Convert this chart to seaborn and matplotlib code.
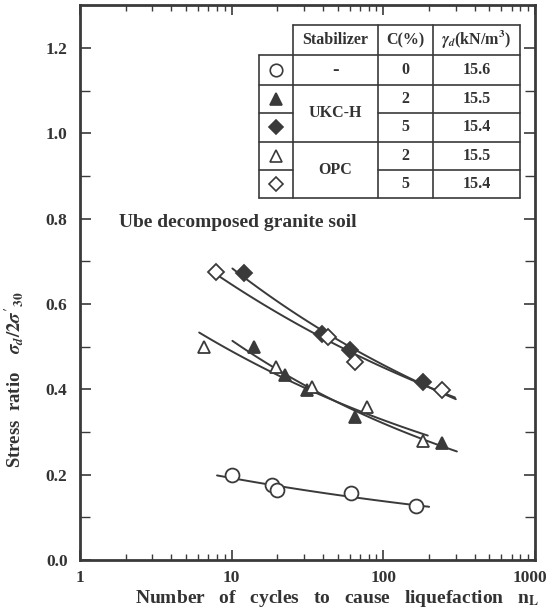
import numpy as np
import pandas as pd
import matplotlib
matplotlib.use("Agg")
import matplotlib.pyplot as plt
import matplotlib.transforms as mtransforms
import seaborn as sns

# number of cycles / stress ratio
n_none = [10.1, 18.3, 20.0, 61.0, 164.0]
s_none = [0.198, 0.175, 0.163, 0.156, 0.126]
n_ukc2 = [14.1, 22.3, 31.2, 64.7, 243.0]
s_ukc2 = [0.499, 0.434, 0.399, 0.334, 0.275]
n_ukc5 = [12.1, 39.2, 60.0, 182.0]
s_ukc5 = [0.672, 0.530, 0.492, 0.418]
n_opc2 = [6.6, 19.7, 33.6, 77.6, 182.0]
s_opc2 = [0.499, 0.453, 0.406, 0.359, 0.278]
n_opc5 = [7.9, 42.9, 64.7, 243.0]
s_opc5 = [0.674, 0.523, 0.464, 0.399]

# extent of each fitted curve
span_none = (8.0, 200.0)
span_ukc2 = (10.1, 305.0)
span_ukc5 = (10.1, 300.0)
span_opc2 = (6.1, 196.0)
span_opc5 = (7.3, 296.0)

stabilizers = ["-", "UKC-H", "UKC-H", "OPC", "OPC"]
cement = ["0", "2", "5", "2", "5"]
density = ["15.6", "15.5", "15.4", "15.5", "15.4"]

sns.set_style("ticks")
plt.rcParams["font.family"] = ["Liberation Serif", "DejaVu Serif"]
plt.rcParams["font.weight"] = "bold"
plt.rcParams["mathtext.fontset"] = "stix"

dark = "#3a3a3a"
txt = "#333333"
fig = plt.figure(figsize=(5.5, 6.13), dpi=100)
ax = fig.add_axes([0.1455, 0.0865, 0.8275, 0.905])

series = [
    (n_none, s_none, span_none, "o", "white", 10),
    (n_ukc2, s_ukc2, span_ukc2, "^", dark, 9),
    (n_ukc5, s_ukc5, span_ukc5, "D", dark, 8),
    (n_opc2, s_opc2, span_opc2, "^", "white", 9),
    (n_opc5, s_opc5, span_opc5, "D", "white", 8),
]

# power-law trend line through each series
for n, s, span, mk, fc, ms in series:
    coef = np.polyfit(np.log10(n), np.log10(s), 1)
    xs = np.logspace(np.log10(span[0]), np.log10(span[1]), 100)
    fit = pd.DataFrame({"n": xs, "s": 10 ** np.polyval(coef, np.log10(xs))})
    sns.lineplot(data=fit, x="n", y="s", ax=ax, color=dark, lw=1.4, zorder=2)
    ax.plot(n, s, ls="none", marker=mk, ms=ms, mfc=fc, mec=dark, mew=1.3, zorder=3)

ax.set_xscale("log")
ax.set_xlim(1, 1000)
ax.set_ylim(0, 1.3)
ax.set_yticks(np.arange(0, 1.21, 0.2))
ax.set_yticks(np.arange(0.1, 1.3, 0.2), minor=True)
ax.set_xticks([1, 10, 100, 1000])
ax.set_xticklabels(["1", "10", "100", "1000"])
ax.set_yticklabels([f"{v:.1f}" for v in np.arange(0, 1.21, 0.2)])
ax.tick_params(which="both", direction="in", top=True, right=True, color=dark,
               labelsize=12.5, labelcolor=txt)
ax.tick_params(axis="y", which="major", length=8, width=1.2, pad=9)
ax.tick_params(axis="y", which="minor", length=7, width=1)
ax.tick_params(axis="x", which="major", length=7, width=1.2, pad=7)
ax.tick_params(axis="x", which="minor", length=4, width=1)
for sp in ax.spines.values():
    sp.set_linewidth(2)
    sp.set_color(dark)

# nudge the last x label so it stays on the canvas
last = ax.get_xticklabels()[-1]
last.set_transform(last.get_transform() +
                   mtransforms.ScaledTranslation(-4 / 72, 0, fig.dpi_scale_trans))

ax.set_xlabel("Number   of   cycles   to   cause   liquefaction   n$_\\mathbf{L}$",
              fontsize=14, fontweight="bold", color=txt)
ax.xaxis.set_label_coords(0.564, -0.051)
ax.set_ylabel("Stress  ratio    $\\sigma_{d}/2\\sigma'_{30}$",
              fontsize=13.5, fontweight="bold", color=txt)
ax.yaxis.set_label_coords(-0.12, 0.325)

ax.text(0.086, 0.608, "Ube decomposed granite soil", transform=ax.transAxes,
        fontsize=14, fontweight="bold", color=txt, va="center")

# table of specimens
tr = ax.transAxes
xs_col = [0.394, 0.467, 0.654, 0.775, 0.967]
ys_row = [0.964, 0.910, 0.856, 0.806, 0.754, 0.703, 0.653]
lkw = dict(transform=tr, color=dark, lw=1.2, clip_on=False, zorder=5)
ax.plot([xs_col[1], xs_col[4]], [ys_row[0]] * 2, **lkw)
ax.plot([xs_col[0], xs_col[4]], [ys_row[1]] * 2, **lkw)
ax.plot([xs_col[0], xs_col[4]], [ys_row[6]] * 2, **lkw)
for i in range(2, 6):
    ax.plot([xs_col[0], xs_col[1]], [ys_row[i]] * 2, **lkw)
    ax.plot([xs_col[2], xs_col[4]], [ys_row[i]] * 2, **lkw)
    if i in (2, 4):
        ax.plot([xs_col[1], xs_col[2]], [ys_row[i]] * 2, **lkw)
ax.plot([xs_col[0]] * 2, [ys_row[1], ys_row[6]], **lkw)
for c in xs_col[1:]:
    ax.plot([c] * 2, [ys_row[0], ys_row[6]], **lkw)

tkw = dict(transform=tr, ha="center", va="center", fontsize=11.5,
           fontweight="bold", color=txt, zorder=6)
ax.text((xs_col[1] + xs_col[2]) / 2, (ys_row[0] + ys_row[1]) / 2, "Stabilizer", **tkw)
ax.text((xs_col[2] + xs_col[3]) / 2, (ys_row[0] + ys_row[1]) / 2, "C(%)", **tkw)
ax.text((xs_col[3] + xs_col[4]) / 2, (ys_row[0] + ys_row[1]) / 2,
        "$\\gamma_{d}$(kN/m$^\\mathbf{3}$)", **tkw)

mid = [(ys_row[i] + ys_row[i + 1]) / 2 for i in range(1, 6)]
ax.text((xs_col[1] + xs_col[2]) / 2, mid[0], stabilizers[0],
        **{**tkw, "fontsize": 14})
ax.text((xs_col[1] + xs_col[2]) / 2, ys_row[3], stabilizers[1], **tkw)
ax.text((xs_col[1] + xs_col[2]) / 2, ys_row[5], stabilizers[3], **tkw)
for i in range(5):
    ax.text((xs_col[2] + xs_col[3]) / 2, mid[i], cement[i], **tkw)
    ax.text((xs_col[3] + xs_col[4]) / 2, mid[i], density[i], **tkw)
    mk, fc = series[i][3], series[i][4]
    ax.plot((xs_col[0] + xs_col[1]) / 2, mid[i], transform=tr, marker=mk,
            ms=series[i][5] - 1, mfc=fc, mec=dark, mew=1.2, clip_on=False, zorder=6)

fig.savefig("out.png", dpi=100)
